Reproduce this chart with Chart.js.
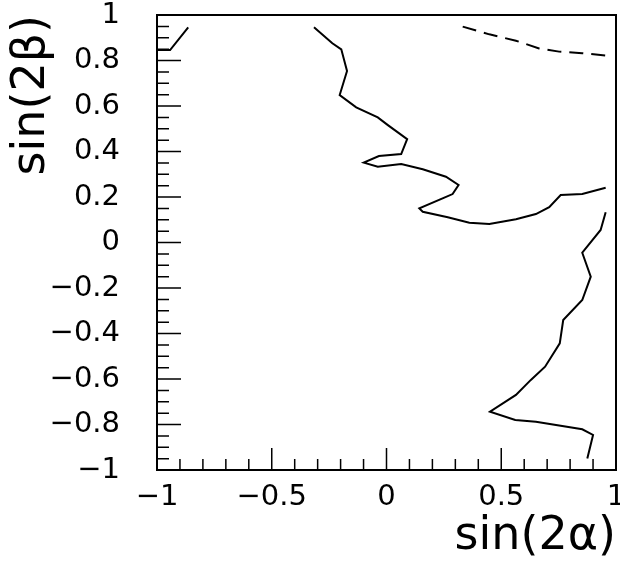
<!DOCTYPE html>
<html>
<head>
<meta charset="utf-8">
<script src="https://cdn.jsdelivr.net/npm/chart.js@4.4.1/dist/chart.umd.min.js"></script>
<style>
    body { margin: 0; background: #fff; }
    canvas { display: block; }
</style>
</head>
<body>
<canvas id="contourChart" width="620" height="573"></canvas>
<script>
// Kontur di bidang sin(2a) - sin(2b)
const cornerX = [-0.864, -0.943, -1.0];
const cornerY = [0.946, 0.846, 0.846];

const mainX = [-0.316, -0.236, -0.197, -0.172, -0.204, -0.132, -0.038, 0.006, 0.090, 0.064, -0.033, -0.099, -0.038, 0.064, 0.158, 0.259, 0.314, 0.288, 0.252, 0.143, 0.158, 0.267, 0.361, 0.448, 0.564, 0.651, 0.709, 0.759, 0.853, 0.955];
const mainY = [0.946, 0.876, 0.849, 0.754, 0.648, 0.594, 0.550, 0.516, 0.454, 0.389, 0.380, 0.351, 0.333, 0.345, 0.322, 0.289, 0.253, 0.213, 0.197, 0.150, 0.135, 0.111, 0.087, 0.081, 0.102, 0.125, 0.155, 0.209, 0.213, 0.241];

const dashX = [0.332, 0.448, 0.564, 0.665, 0.752, 0.853, 0.962];
const dashY = [0.949, 0.915, 0.887, 0.853, 0.839, 0.832, 0.821];

const rightX = [0.955, 0.933, 0.853, 0.890, 0.853, 0.770, 0.755, 0.691, 0.629, 0.564, 0.451, 0.561, 0.651, 0.853, 0.900, 0.875];
const rightY = [0.133, 0.055, -0.045, -0.150, -0.253, -0.341, -0.443, -0.546, -0.604, -0.670, -0.744, -0.780, -0.788, -0.821, -0.846, -0.949];

const xTickLabels = [-1, -0.5, 0, 0.5, 1];
const yTickLabels = [-1, -0.8, -0.6, -0.4, -0.2, 0, 0.2, 0.4, 0.6, 0.8, 1];

const toPoints = (xs, ys) => xs.map((x, i) => ({ x: x, y: ys[i] }));
const fmt = v => String(Math.round(v * 10) / 10).replace('-', '\u2212');

const FONT = "'DejaVu Sans', sans-serif";

// Bingkai plot + tick ke dalam (gaya ROOT)
const frameTicks = {
    id: 'frameTicks',
    afterDatasetsDraw(chart) {
        const { ctx, chartArea: a, scales } = chart;
        ctx.save();
        ctx.strokeStyle = '#000';
        ctx.lineWidth = 2;
        ctx.strokeRect(a.left, a.top, a.right - a.left, a.bottom - a.top);
        ctx.lineWidth = 1.5;
        ctx.beginPath();
        for (let i = 1; i < 40; i++) {
            const v = -1 + i * 0.05;
            const py = scales.y.getPixelForValue(v);
            const len = i % 4 === 0 ? 24 : 12;
            ctx.moveTo(a.left, py);
            ctx.lineTo(a.left + len, py);
        }
        for (let i = 1; i < 20; i++) {
            const v = -1 + i * 0.1;
            const px = scales.x.getPixelForValue(v);
            const len = i % 5 === 0 ? 22 : 11;
            ctx.moveTo(px, a.bottom);
            ctx.lineTo(px, a.bottom - len);
        }
        ctx.stroke();
        ctx.restore();
    }
};

const lineStyle = { showLine: true, pointRadius: 0, borderColor: '#000', borderWidth: 2, tension: 0, fill: false };

new Chart(document.getElementById('contourChart'), {
    type: 'scatter',
    data: {
        datasets: [
            { ...lineStyle, data: toPoints(cornerX, cornerY) },
            { ...lineStyle, data: toPoints(mainX, mainY) },
            { ...lineStyle, data: toPoints(dashX, dashY), borderDash: [14, 8] },
            { ...lineStyle, data: toPoints(rightX, rightY) }
        ]
    },
    options: {
        responsive: false,
        animation: false,
        devicePixelRatio: 1,
        layout: { padding: { left: 4, top: 15, right: 4, bottom: 0 } },
        plugins: {
            legend: { display: false },
            tooltip: { enabled: false }
        },
        scales: {
            x: {
                type: 'linear',
                min: -1,
                max: 1,
                afterBuildTicks: s => { s.ticks = xTickLabels.map(v => ({ value: v })); },
                afterFit: s => { s.height = 103; s.paddingLeft = 0; s.paddingRight = 0; },
                ticks: {
                    color: '#000',
                    font: { family: FONT, size: 29 },
                    padding: 10,
                    maxRotation: 0,
                    callback: v => fmt(v)
                },
                grid: { display: false, drawTicks: false },
                border: { display: false },
                title: {
                    display: true,
                    text: 'sin(2\u03b1)',
                    align: 'end',
                    color: '#000',
                    font: { family: FONT, size: 46 },
                    padding: { top: 0, bottom: 8 }
                }
            },
            y: {
                type: 'linear',
                min: -1,
                max: 1,
                afterBuildTicks: s => { s.ticks = yTickLabels.map(v => ({ value: v })); },
                afterFit: s => { s.width = 153; s.paddingTop = 0; s.paddingBottom = 0; },
                ticks: {
                    color: '#000',
                    font: { family: FONT, size: 29 },
                    padding: 37,
                    callback: v => fmt(v)
                },
                grid: { display: false, drawTicks: false },
                border: { display: false },
                title: {
                    display: true,
                    text: 'sin(2\u03b2)',
                    align: 'end',
                    color: '#000',
                    font: { family: FONT, size: 46 },
                    padding: 0
                }
            }
        }
    },
    plugins: [frameTicks]
});
</script>
</body>
</html>
